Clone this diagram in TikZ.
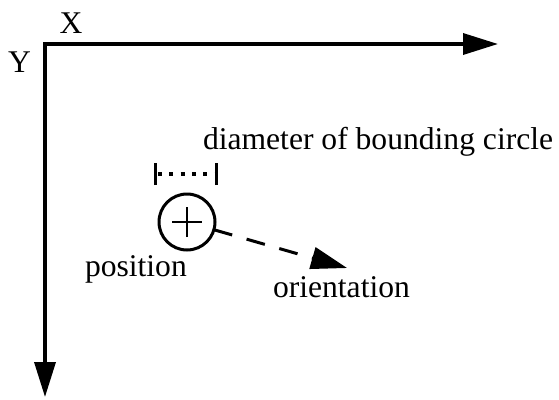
\documentclass[tikz,border=0pt]{standalone}
\usepackage{fontspec}
\setmainfont{Liberation Serif}
\usetikzlibrary{arrows.meta}
\begin{document}
\begin{tikzpicture}[x=1pt,y=-1pt,
  lbl/.style={font=\fontsize{31.6}{36}\selectfont, inner sep=0pt, outer sep=0pt},
  axis/.style={line width=3.5pt, line join=miter},
  bigtip/.style={-{Triangle[length=35pt,width=21pt]}},
  dashtip/.style={-{Triangle[length=36pt,width=22pt]}}]
\useasboundingbox (0,0) rectangle (559,399);
% axes
\coordinate (o) at (45,44);
\coordinate (xe) at (498,44);
\coordinate (ye) at (45,397);
\draw[axis,{Triangle[length=35pt,width=21pt]}-{Triangle[length=35pt,width=21pt]}] (xe) -- (o) -- (ye);
\node[lbl, anchor=base] (xl) at (71,33) {X};
\node[lbl, anchor=base east] (yl) at (31,72) {Y};
% object
\node[draw, circle, line width=3pt, minimum size=56pt, inner sep=0pt, outer sep=0pt] (c) at (187,222) {};
\draw[line width=2pt] ([xshift=-15pt]c.center) -- ([xshift=15pt]c.center);
\draw[line width=2pt] ([yshift=-15pt]c.center) -- ([yshift=15pt]c.center);
% diameter bracket
\coordinate (bl) at (155,174);
\coordinate (br) at (216,174);
\draw[line width=3pt] ([yshift=-11pt]bl) -- ([yshift=11pt]bl);
\draw[line width=3pt] ([yshift=-11pt]br) -- ([yshift=11pt]br);
\draw[line width=3.5pt, dash pattern=on 4pt off 7.3pt, dash phase=-3pt] (bl) -- (br);
% orientation arrow
\coordinate (ot) at (347,268);
\draw[line width=3pt, dash pattern=on 19pt off 15pt, dashtip] (c) -- (ot);
% labels
\node[lbl, anchor=base west] (dl) at (203,149) {diameter of bounding circle};
\node[lbl, anchor=base west] (pl) at (85,276) {position};
\node[lbl, anchor=base west] (ol) at (273,297) {orientation};
\end{tikzpicture}
\end{document}
